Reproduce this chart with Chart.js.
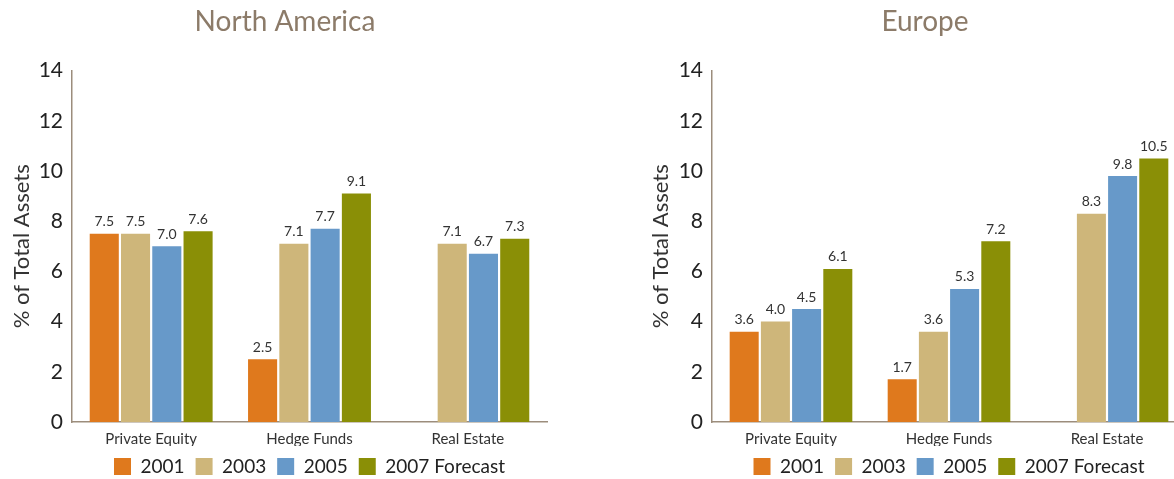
<!DOCTYPE html>
<html>
<head>
<meta charset="utf-8">
<script src="https://cdn.jsdelivr.net/npm/chart.js@4.4.0/dist/chart.umd.min.js"></script>
<style>
  html, body { margin:0; padding:0; background:#fff; overflow:hidden; width:1174px; height:479px; }
  .wrap { position:absolute; top:0; height:479px; }
  #w1 { left:0; width:570px; }
  #w2 { left:645px; width:560px; }
</style>
</head>
<body>
<div class="wrap" id="w1"><canvas id="c1"></canvas></div>
<div class="wrap" id="w2"><canvas id="c2"></canvas></div>
<script>
const categories = ["Private Equity", "Hedge Funds", "Real Estate"];
const seriesNames = ["2001", "2003", "2005", "2007 Forecast"];
const seriesColors = ["#DF791D", "#CEB67A", "#6799C9", "#8A8F06"];
const yTicks = [0, 2, 4, 6, 8, 10, 12, 14];

// North America values per series (across categories)
const na2001 = [7.5, 2.5, null];
const na2003 = [7.5, 7.1, 7.1];
const na2005 = [7.0, 7.7, 6.7];
const na2007 = [7.6, 9.1, 7.3];

// Europe values per series
const eu2001 = [3.6, 1.7, null];
const eu2003 = [4.0, 3.6, 8.3];
const eu2005 = [4.5, 5.3, 9.8];
const eu2007 = [6.1, 7.2, 10.5];

const FONT = "Lato, 'Open Sans', sans-serif";
const axisColor = "#9C8D7C";

const valueLabels = {
  id: 'valueLabels',
  afterDatasetsDraw(chart) {
    const ctx = chart.ctx;
    ctx.save();
    ctx.font = "14px " + FONT;
    ctx.fillStyle = "#333333";
    ctx.textAlign = "center";
    ctx.textBaseline = "bottom";
    chart.data.datasets.forEach((ds, i) => {
      const meta = chart.getDatasetMeta(i);
      meta.data.forEach((bar, j) => {
        const v = ds.data[j];
        if (v === null || v === undefined) return;
        ctx.fillText(v.toFixed(1), bar.x, bar.y - 5);
      });
    });
    ctx.restore();
  }
};

function makeChart(id, title, seriesData, yWidth, yTitlePad, rightGap) {
  const datasets = seriesData.map((d, i) => ({
    label: seriesNames[i],
    data: d,
    backgroundColor: seriesColors[i],
    borderWidth: 0,
    categoryPercentage: 0.79,
    barPercentage: 0.93
  }));
  return new Chart(document.getElementById(id), {
    type: 'bar',
    data: { labels: categories, datasets },
    plugins: [valueLabels],
    options: {
      responsive: true,
      maintainAspectRatio: false,
      animation: false,
      layout: { padding: 0 },
      plugins: {
        title: {
          display: true,
          text: title,
          color: "#8C7B69",
          font: { family: FONT, size: 28, weight: 'normal' },
          padding: { top: 5, bottom: 32 }
        },
        legend: {
          display: true,
          position: 'bottom',
          fullSize: false,
          maxHeight: 33,
          labels: {
            color: "#222222",
            font: { family: FONT, size: 19 },
            boxWidth: 17,
            boxHeight: 17,
            padding: 11
          }
        },
        tooltip: { enabled: false }
      },
      scales: {
        x: {
          afterFit: (s) => { s.height = 24; },
          grid: { display: false, drawTicks: false },
          border: { display: true, color: axisColor, width: 1.5 },
          ticks: { color: "#333333", font: { family: FONT, size: 15 }, padding: 8 }
        },
        y: {
          min: 0,
          max: 14,
          afterBuildTicks: (s) => { s.ticks = yTicks.map(v => ({ value: v })); },
          afterFit: (s) => { s.width = yWidth; },
          grid: { display: false, drawTicks: false },
          border: { display: true, color: axisColor, width: 1.5 },
          ticks: { color: "#222222", font: { family: FONT, size: 21 }, padding: 9 },
          title: {
            display: true,
            text: "% of Total Assets",
            color: "#333333",
            font: { family: FONT, size: 22 },
            padding: { top: yTitlePad, bottom: 0 }
          }
        },
        yGap: {
          position: 'right',
          min: 0,
          max: 14,
          afterFit: (s) => { s.width = rightGap; },
          grid: { display: false, drawTicks: false },
          border: { display: false },
          ticks: { display: false }
        }
      }
    }
  });
}

makeChart('c1', 'North America', [na2001, na2003, na2005, na2007], 72, 9, 23);
makeChart('c2', 'Europe', [eu2001, eu2003, eu2005, eu2007], 67, 3, 19);
</script>
</body>
</html>
